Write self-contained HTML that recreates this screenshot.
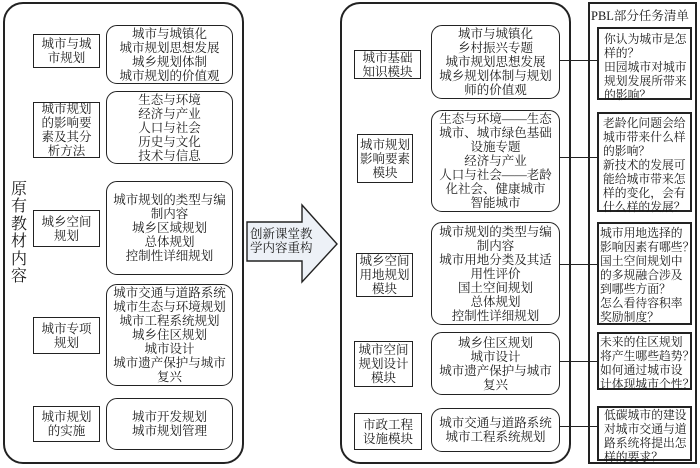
<!DOCTYPE html>
<html><head><meta charset="utf-8">
<style>
html,body{margin:0;padding:0;background:#fff;}
body{width:700px;height:468px;position:relative;overflow:hidden;font-family:"Liberation Serif","Noto Serif CJK SC",serif;color:#1a1a1a;}
.b{position:absolute;box-sizing:border-box;border:1.5px solid #222;display:flex;align-items:center;justify-content:center;text-align:center;font-size:12.5px;line-height:14px;white-space:nowrap;background:#fff;}
.r{border-radius:11px;}
.o{position:absolute;box-sizing:border-box;border:2px solid #222;border-radius:20px;}
.p{position:absolute;box-sizing:border-box;border:2px solid #222;font-size:11.8px;line-height:14px;white-space:nowrap;text-align:left;background:#fff;}
.h{position:absolute;height:0;border-top:1.5px solid #222;}
</style></head><body>

<!-- left outer panel -->
<div class="o" style="left:3px;top:2px;width:241px;height:462px;"></div>
<div style="position:absolute;left:10px;top:181px;width:18px;font-size:16px;line-height:17.4px;text-align:center;">原<br>有<br>教<br>材<br>内<br>容</div>

<div class="b" style="left:33px;top:34px;width:67px;height:34px;">城市与城<br>市规划</div>
<div class="b" style="left:33px;top:102px;width:67px;height:56px;">城市规划<br>的影响要<br>素及其分<br>析方法</div>
<div class="b" style="left:33px;top:210px;width:67px;height:37px;">城乡空间<br>规划</div>
<div class="b" style="left:33px;top:317px;width:67px;height:37px;">城市专项<br>规划</div>
<div class="b" style="left:33px;top:406px;width:67px;height:36px;">城市规划<br>的实施</div>

<div class="b r" style="left:106px;top:25px;width:127px;height:59px;">城市与城镇化<br>城市规划思想发展<br>城乡规划体制<br>城市规划的价值观</div>
<div class="b r" style="left:106px;top:91px;width:127px;height:73px;">生态与环境<br>经济与产业<br>人口与社会<br>历史与文化<br>技术与信息</div>
<div class="b r" style="left:106px;top:181px;width:127px;height:94px;">城市规划的类型与编<br>制内容<br>城乡区域规划<br>总体规划<br>控制性详细规划</div>
<div class="b r" style="left:106px;top:284px;width:127px;height:102px;">城市交通与道路系统<br>城市生态与环境规划<br>城市工程系统规划<br>城乡住区规划<br>城市设计<br>城市遗产保护与城市<br>复兴</div>
<div class="b r" style="left:106px;top:398px;width:127px;height:52px;">城市开发规划<br>城市规划管理</div>

<!-- arrow -->
<svg style="position:absolute;left:0;top:0;" width="700" height="468">
<polygon points="247,222 302,222 302,205 337,244 302,282 302,261 247,261" fill="#edf1f7" stroke="#222" stroke-width="1.4"/>
</svg>
<div style="position:absolute;left:250px;top:227px;width:70px;font-size:12.5px;line-height:14px;text-align:left;white-space:nowrap;">创新课堂教<br>学内容重构</div>

<!-- connectors -->
<div class="h" style="left:560px;top:60px;width:37px;"></div>
<div class="h" style="left:560px;top:157px;width:37px;"></div>
<div class="h" style="left:560px;top:264px;width:37px;"></div>
<div class="h" style="left:560px;top:361px;width:37px;"></div>
<div class="h" style="left:560px;top:426px;width:37px;"></div>

<!-- right outer panel -->
<div class="o" style="left:340px;top:2px;width:231px;height:462px;"></div>

<div class="b" style="left:354px;top:50px;width:67px;height:29px;">城市基础<br>知识模块</div>
<div class="b" style="left:357px;top:134px;width:56px;height:49px;">城市规划<br>影响要素<br>模块</div>
<div class="b" style="left:356px;top:253px;width:57px;height:44px;">城乡空间<br>用地规划<br>模块</div>
<div class="b" style="left:354px;top:341px;width:59px;height:46px;">城市空间<br>规划设计<br>模块</div>
<div class="b" style="left:354px;top:413px;width:68px;height:37px;">市政工程<br>设施模块</div>

<div class="b r" style="left:431px;top:25px;width:129px;height:74px;">城市与城镇化<br>乡村振兴专题<br>城市规划思想发展<br>城乡规划体制与规划<br>师的价值观</div>
<div class="b r" style="left:431px;top:110px;width:129px;height:102px;">生态与环境——生态<br>城市、城市绿色基础<br>设施专题<br>经济与产业<br>人口与社会——老龄<br>化社会、健康城市<br>智能城市</div>
<div class="b r" style="left:431px;top:222px;width:129px;height:103px;">城市规划的类型与编<br>制内容<br>城市用地分类及其适<br>用性评价<br>国土空间规划<br>总体规划<br>控制性详细规划</div>
<div class="b r" style="left:431px;top:332px;width:129px;height:63px;">城乡住区规划<br>城市设计<br>城市遗产保护与城市<br>复兴</div>
<div class="b r" style="left:431px;top:408px;width:129px;height:44px;">城市交通与道路系统<br>城市工程系统规划</div>

<!-- PBL panel -->
<div style="position:absolute;box-sizing:border-box;left:588px;top:2px;width:109px;height:462px;border:2px solid #222;"></div>
<div style="position:absolute;left:591px;top:8px;width:104px;text-align:left;font-size:12.5px;line-height:16px;white-space:nowrap;">PBL部分任务清单</div>

<div class="p" style="left:597px;top:27px;width:95px;height:73px;padding:3px 0 0 5px;">你认为城市是怎<br>样的？<br>田园城市对城市<br>规划发展所带来<br>的影响？</div>
<div class="p" style="left:597px;top:112px;width:95px;height:100px;padding:2px 0 0 4px;">老龄化问题会给<br>城市带来什么样<br>的影响？<br>新技术的发展可<br>能给城市带来怎<br>样的变化，会有<br>什么样的发展？</div>
<div class="p" style="left:597px;top:222px;width:95px;height:103px;padding:2px 0 0 1px;">城市用地选择的<br>影响因素有哪些？<br>国土空间规划中<br>的多规融合涉及<br>到哪些方面？<br>怎么看待容积率<br>奖励制度？</div>
<div class="p" style="left:597px;top:332px;width:95px;height:58px;padding:1px 0 0 1px;">未来的住区规划<br>将产生哪些趋势？<br>如何通过城市设<br>计体现城市个性？</div>
<div class="p" style="left:597px;top:406px;width:95px;height:55px;padding:0 0 0 5px;">低碳城市的建设<br>对城市交通与道<br>路系统将提出怎<br>样的要求？</div>

</body></html>
